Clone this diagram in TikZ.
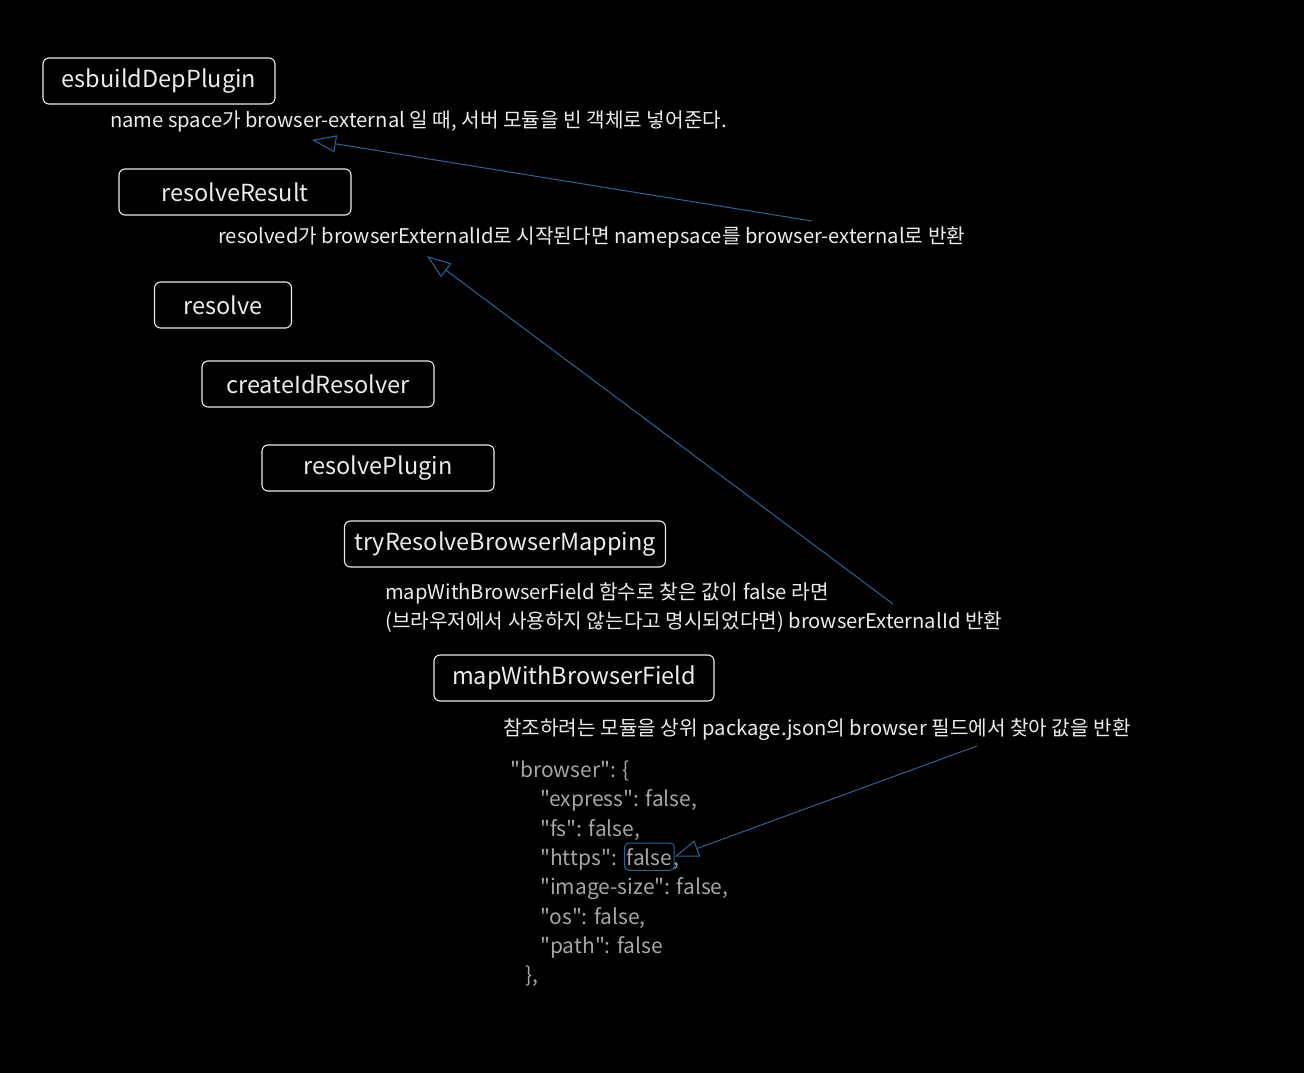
\documentclass[tikz,border=0pt]{standalone}
\usepackage{fontspec}
\setmainfont{Noto Sans CJK KR}
\newfontfamily\codefont{Noto Sans CJK KR}[Ligatures=TeXOff]
\usetikzlibrary{arrows.meta}
\definecolor{inkwhite}{HTML}{ECECEC}
\definecolor{jsongray}{HTML}{A6A6A6}
\definecolor{arrowblue}{HTML}{2C6497}
\begin{document}
\begin{tikzpicture}[x=1pt, y=-1pt,
  fnbox/.style={rectangle, draw=inkwhite, line width=1.1pt, rounded corners=6pt, text=inkwhite,
    minimum height=46pt, inner sep=0pt, font=\fontsize{23.5}{27}\selectfont},
  note/.style={anchor=base west, inner sep=0pt, text=inkwhite, font=\fontsize{20.2}{24}\selectfont},
  json/.style={anchor=base west, inner sep=0pt, text=jsongray, font=\codefont\fontsize{21}{25}\selectfont},
  hilite/.style={draw=arrowblue, line width=1pt, rounded corners=4pt, inner xsep=2pt, inner ysep=5pt},
  pointer/.style={draw=arrowblue, line width=1pt, -{Triangle[open, length=24pt, width=17pt]}}]
\fill[black] (0,0) rectangle (1304,1073);
\useasboundingbox (0,0) rectangle (1304,1073);

% call chain
\node (esbuild) [fnbox, minimum width=232pt] at (159,81) {esbuildDepPlugin};
\node (esbuildNote) [note] at (110,127) {name space가 browser-external 일 때, 서버 모듈을 빈 객체로 넣어준다.};

\node (resolveResult) [fnbox, minimum width=232pt] at (235,192) {resolveResult};
\node (resolveResultNote) [note] at (218,243) {resolved가 browserExternalId로 시작된다면 namepsace를 browser-external로 반환};

\node (resolve) [fnbox, minimum width=137pt] at (223,305) {resolve};
\node (createIdResolver) [fnbox, minimum width=232pt] at (318,384) {createIdResolver};
\node (resolvePlugin) [fnbox, minimum width=232pt] at (378,468) {resolvePlugin};

\node (tryMapping) [fnbox, minimum width=321pt] at (505,544) {tryResolveBrowserMapping};
\node (tryMappingNoteA) [note] at (385,599) {mapWithBrowserField 함수로 찾은 값이 false 라면};
\node (tryMappingNoteB) [note] at (385,628) {(브라우저에서 사용하지 않는다고 명시되었다면) browserExternalId 반환};

\node (mapField) [fnbox, minimum width=280pt] at (574,678) {mapWithBrowserField};
\node (mapFieldNote) [note] at (503,735) {참조하려는 모듈을 상위 package.json의 browser 필드에서 찾아 값을 반환};

% package.json browser field
\node (jsonOpen) [json] at (510,777) {"browser": \{};
\node (jsonExpress) [json] at (540,806) {"express": false,};
\node (jsonFs) [json] at (540,836) {"fs": false,};
\node (jsonHttps) [json] at (540,865) {"https":};
\node (httpsFalse) [json, hilite] at ([xshift=7pt]jsonHttps.base east) {false};
\node (httpsComma) [json] at ([xshift=-1pt]httpsFalse.base east) {,};
\node (jsonImage) [json] at (540,894) {"image-size": false,};
\node (jsonOs) [json] at (540,924) {"os": false,};
\node (jsonPath) [json] at (540,953) {"path": false};
\node (jsonClose) [json] at (525,982) {\},};

% arrows
\coordinate (tailA) at (812,221);
\coordinate (headA) at (312,140);
\coordinate (tailB) at (893,604);
\coordinate (headB) at (427,256);
\coordinate (tailC) at (977,746);
\draw [pointer] (tailA) -- (headA);
\draw [pointer] (tailB) -- (headB);
\draw [pointer] (tailC) -- (httpsFalse.east);
\end{tikzpicture}
\end{document}
